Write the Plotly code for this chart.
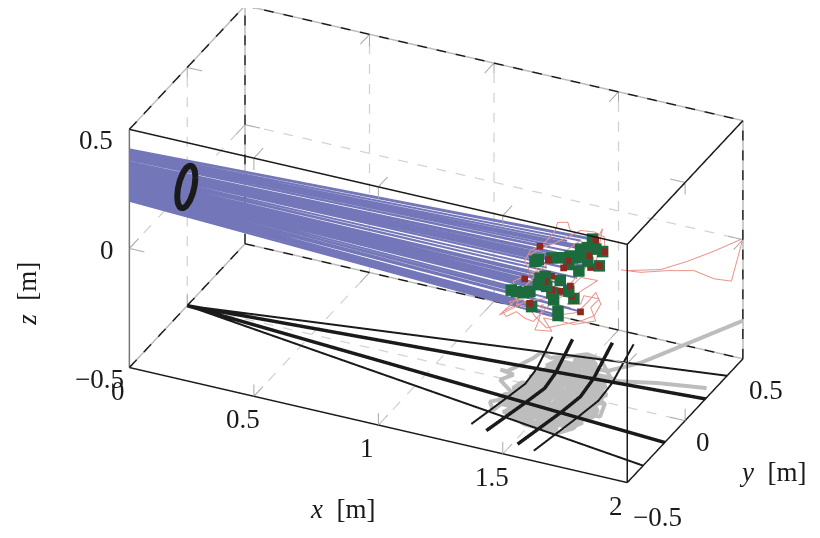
import plotly.graph_objects as go

# ticks
x_ticks = [0, 0.5, 1, 1.5, 2]
y_ticks = [-0.5, 0, 0.5]
z_ticks = [-0.5, 0, 0.5]
x_tick_text = ["0", "0.5", "1", "1.5", "2"]
y_tick_text = ["\u22120.5", "0", "0.5"]
z_tick_text = ["\u22120.5", "0", "0.5"]

# landing points
green_y = [.383, .339, .412, .281, .237, .193, .105, .032, -.085, -.114, .471, .442, .339, .266, .178, -.070,
           -.085, .105, -.158, -.216, -.275, -.319, .032, .047, .178, .222, -.143, .085, .085, -.012, .281, -.026]
green_z = [-.068, -.081, -.125, -.078, -.070, -.040, -.002, .035, .089, .097, -.166, -.211, -.137, -.141, -.068, .003,
           -.016, -.097, -.007, .018, .053, .083, -.112, -.148, -.180, -.234, -.078, -.217, -.234, -.061, -.057, -.012]
red_y = [.412, .354, .003, .170, .135, .368, -.070, .490, .442, .032, -.026, .105, .032, .193, .208, .281, -.158, -.202]
red_z = [-.090, -.123, .043, -.049, -.060, -.180, .137, -.177, -.211, -.042, -.033, -.143, -.098, -.167, -.217, -.321, -.057, .069]
landing_x = 1.45

# flight heights where each path enters the box
green_z0 = [.416, .392, .385, .372, .361, .363, .354, .349, .339, .333, .389, .352, .359, .329, .341, .293,
            .276, .297, .255, .249, .248, .250, .261, .245, .274, .258, .217, .218, .208, .276, .385, .300]
red_z0 = [.413, .372, .344, .349, .330, .343, .373, .393, .347, .303, .287, .270, .266, .287, .263, .227, .225, .284]

# flights with no marker of their own
extra_y = [-.012, -.246, .251, .281, .164, .018, -.216, -.012, .193, -.246, .076]
extra_z = [.016, .149, -.164, -.023, .037, .096, .004, -.129, -.262, -.025, -.239]
extra_z0 = [.322, .316, .310, .405, .398, .380, .240, .235, .230, .212, .200]

# hoop
hoop_x = [.2606, .2578, .2499, .2380, .224, .2100, .1981, .1902, .1874, .1902, .1981, .2100, .224, .2380, .2499, .2578, .2606]
hoop_z = [.357, .3838, .399, .4001, .387, .3617, .3282, .2914, .257, .2302, .215, .2139, .227, .2523, .2858, .3226, .357]
hoop_y = -0.49

# red tracking error trace
tangle_y = [.427, .412, .471, .427, .193, .170, .082, .061, -.012, -.158, -.202, -.158, -.099, -.304, -.231, -.421,
            -.246, -.129, -.041, -.085, -.114, .032, -.041, .105, .222, .412, .368, .442, .310, .281, .164, .266,
            .427, .281, .105, -.099, -.275, -.216, -.012, .281, .398,
            -.129, -.202, -.275, -.363, -.392, -.304, -.333, -.216, -.114, -.012, .135, .281, .398, .456, .412, .354,
            .251, .135, .061, -.158, -.041, .105, .281, .398, .485, .490, .456, .368]
tangle_z = [-.200, -.188, -.071, -.090, .065, .112, .157, .133, .129, .161, .142, .077, .047, .110, .016, .030,
            -.018, -.093, -.124, -.171, -.192, -.274, -.180, -.269, -.344, -.428, -.349, -.351, -.269, -.289, -.229, -.233,
            -.266, -.177, -.171, -.072, -.003, .037, .030, -.022, -.160,
            -.149, -.097, -.032, -.007, .029, .005, .041, -.012, -.135, -.237, -.298, -.360, -.399, -.380, -.308, -.313,
            -.309, -.256, -.184, .147, .115, .068, .020, -.047, -.113, -.150, -.155, -.081]
tail_x = [1.556, 1.636, 1.743, 1.850, 1.930, 2.0, 2.0, 1.930, 1.824, 1.716, 1.584]
tail_y = [.4, .4, .4, .4, .4, .4, .5, .4, .4, .4, .4]
tail_z = [-.182, -.173, -.140, -.114, -.129, -.122, .005, -.013, -.081, -.142, -.178]

# grey floor shadow
floor_x = [1.675, 1.590, 1.459, 1.382, 1.356, 1.342, 1.297, 1.334, 1.354, 1.380, 1.502, 1.622, 1.608, 1.445, 1.418, 1.372,
           1.448, 1.464, 1.565, 1.662, 1.615, 1.473, 1.426, 1.547, 1.583, 1.682, 1.707, 1.581, 1.524, 1.615, 1.655, 1.656,
           1.590, 1.567, 1.480, 1.379, 1.405, 1.478, 1.542, 1.415, 1.370, 1.354, 1.487, 1.617, 1.613, 1.460, 1.263, 1.292,
           1.233, 1.260, 1.307, 1.313, 1.362, 1.434, 1.472, 1.532, 1.622, 1.655, 1.793, 1.971]
floor_y = [.314, .208, .202, .138, -.011, -.127, -.175, -.227, -.094, .082, .167, .169, .081, .058, -.118, -.222,
           -.241, -.042, .088, .051, -.080, -.120, -.251, -.194, -.068, -.008, -.105, -.124, -.232, -.285, -.225, -.170,
           -.201, -.267, -.253, -.178, -.002, .101, .227, .181, .105, -.067, -.004, .003, -.163, -.181, -.014, .041,
           .054, .053, .184, .228, .210, .258, .290, .277, .169, .157, .206, .248]
core_x = [1.44, 1.52, 1.55, 1.40, 1.38, 1.60, 1.63, 1.38, 1.36, 1.64, 1.66, 1.35, 1.34, 1.67, 1.68, 1.33, 1.33, 1.66, 1.64, 1.38, 1.48, 1.61]
core_y = [.24, .24, .19, .19, .14, .14, .09, .09, .04, .04, -.01, -.01, -.06, -.06, -.11, -.11, -.16, -.16, -.21, -.21, -.26, -.26]

# black arcs and rays on the floor
arc1_x = [1.304, 1.340, 1.358, 1.349, 1.303]
arc1_y = [-.350, -.123, 0, .122, .354]
arc2_x = [1.374, 1.418, 1.436, 1.425, 1.377]
arc2_y = [-.371, -.118, 0, .117, .368]
arc3_x = [1.519, 1.565, 1.580, 1.567, 1.519]
arc3_y = [-.413, -.131, 0, .142, .407]
arc4_x = [1.593, 1.635, 1.652, 1.643, 1.594]
arc4_y = [-.432, -.139, 0, .137, .429]
ray_ends_thick = [-.176, .176]
ray_ends_thin = [-.363, .363]

BLUE = "#7376B8"
GREY = "#BDBDBD"
GRID = "#D2D2D2"
TICK = "#A8A8A8"
INK = "#1A1A1A"


# same screen position, nearer the camera, so it is painted on top
def nearer(xs, ys, zs, k):
    return ([None if v is None else v + .458 * k for v in xs],
            [None if v is None else v - k for v in ys],
            [None if v is None else v + .626 * k for v in zs])


def path(xs, ys, zs, color, width):
    fig.add_trace(go.Scatter3d(x=xs, y=ys, z=zs, mode="lines", line=dict(color=color, width=width),
                               showlegend=False, hoverinfo="skip"))


def lines(segs, color, width, lift=0):
    xs, ys, zs = [], [], []
    for a, b in segs:
        xs += [a[0], b[0], None]
        ys += [a[1], b[1], None]
        zs += [a[2], b[2], None]
    path(*nearer(xs, ys, zs, lift), color, width)


# gl dash patterns stretch with the trace length, so cut the dashes here
def dashed(segs):
    out = []
    for a, b in segs:
        n = max(round(abs(b[0] - a[0]) * 13 + abs(b[1] - a[1]) * 8 + abs(b[2] - a[2]) * 12), 1)
        for i in range(n):
            t0, t1 = i / n, (i + .5) / n
            out.append((tuple(p + (q - p) * t0 for p, q in zip(a, b)), tuple(p + (q - p) * t1 for p, q in zip(a, b))))
    return out


fig = go.Figure()

# box, front edges solid, back edges black dashes over a grey line
lines([((0, -.5, .5), (2, -.5, .5)), ((2, -.5, -.5), (2, -.5, .5)), ((0, -.5, -.5), (2, -.5, -.5)),
       ((2, -.5, -.5), (2, .5, -.5)), ((2, -.5, .5), (2, .5, .5))], INK, 3)
lines([((0, -.5, -.5), (0, -.5, .5))], "#777777", 3)
back_edges = [((0, .5, .5), (2, .5, .5)), ((2, .5, -.5), (2, .5, .5)), ((0, -.5, .5), (0, .5, .5)),
              ((0, .5, -.5), (2, .5, -.5)), ((0, .5, -.5), (0, .5, .5)), ((0, -.5, -.5), (0, .5, -.5))]
lines(back_edges, "#BBBBBB", 3)
lines(dashed(back_edges), INK, 3, lift=.006)

# dashed grid
grid = []
for t in x_ticks[1:-1]:
    grid.append(((t, -.5, -.5), (t, .5, -.5)))
    grid.append(((t, .5, -.5), (t, .5, .5)))
grid.append(((0, 0, -.5), (2, 0, -.5)))
grid.append(((0, .5, 0), (2, .5, 0)))
grid.append(((0, 0, -.5), (0, 0, .5)))
grid.append(((0, -.5, 0), (0, .5, 0)))
lines(dashed(grid), GRID, 2.5)

# short ticks on all twelve edges
ticks = []
for t in x_ticks[1:-1]:
    for yy, sy_ in ((-.5, .08), (.5, -.08)):
        for zz, sz_ in ((-.5, .05), (.5, -.05)):
            ticks += [((t, yy, zz), (t, yy + sy_, zz)), ((t, yy, zz), (t, yy, zz + sz_))]
for t in y_ticks[1:-1]:
    for xx, sx_ in ((0, .06), (2, -.06)):
        for zz, sz_ in ((-.5, .05), (.5, -.05)):
            ticks += [((xx, t, zz), (xx + sx_, t, zz)), ((xx, t, zz), (xx, t, zz + sz_))]
for t in z_ticks[1:-1]:
    for xx, sx_ in ((0, .06), (2, -.06)):
        for yy, sy_ in ((-.5, .08), (.5, -.08)):
            ticks += [((xx, yy, t), (xx + sx_, yy, t)), ((xx, yy, t), (xx, yy + sy_, t))]
lines(ticks, TICK, 2)

# flight paths
blue = []
for yy, zz, z0 in zip(green_y + red_y + extra_y, green_z + red_z + extra_z, green_z0 + red_z0 + extra_z0):
    blue.append(((0, -.5, z0), (landing_x, yy, zz)))
lines(blue, BLUE, 4)

# floor shadow
path([2.0] + floor_x, [.5] + floor_y, [-.34] + [-.499] * len(floor_x), GREY, 8)
path(core_x, core_y, [-.499] * len(core_x), GREY, 16)

# arcs and rays, lifted above the shadow
lines([((0, 0, -.5), (2, yy, -.5)) for yy in ray_ends_thick], INK, 7, lift=.03)
lines([((0, 0, -.5), (2, yy, -.5)) for yy in ray_ends_thin], INK, 4, lift=.03)
for ax, ay, width in ((arc1_x, arc1_y, 4), (arc2_x, arc2_y, 7), (arc3_x, arc3_y, 7), (arc4_x, arc4_y, 4)):
    path(*nearer(ax, ay, [-.5] * len(ax), .03), INK, width)

# red trace
path(*nearer([landing_x] * len(tangle_y), tangle_y, tangle_z, .05), "#E9938A", 2)
path(tail_x, tail_y, tail_z, "#E9938A", 2)

# markers
sx, sy, sz = nearer([landing_x] * len(green_y), green_y, green_z, .1)
fig.add_trace(go.Scatter3d(x=sx, y=sy, z=sz, mode="markers", showlegend=False, hoverinfo="skip",
                           marker=dict(color="#1C6B3C", size=6, symbol="square", line=dict(width=0))))
sx, sy, sz = nearer([landing_x] * len(red_y), red_y, red_z, .13)
fig.add_trace(go.Scatter3d(x=sx, y=sy, z=sz, mode="markers", showlegend=False, hoverinfo="skip",
                           marker=dict(color="#8C2A22", size=3.5, symbol="square", line=dict(width=0))))

# hoop
path(hoop_x, [hoop_y] * len(hoop_x), hoop_z, INK, 12)

# labels as scene annotations
font = dict(family="Liberation Serif", size=27, color="#1a1a1a")
notes = []
for t, s in zip(x_ticks, x_tick_text):
    notes.append(dict(x=t, y=-.5, z=-.5, text=s, showarrow=False, font=font, xshift=-11, yshift=-23))
for t, s, dx, dy in zip(y_ticks, y_tick_text, (30, 18, 23), (-34, -21, -31)):
    notes.append(dict(x=2, y=t, z=-.5, text=s, showarrow=False, font=font, xshift=dx, yshift=dy))
for t, s, dx, dy in zip(z_ticks, z_tick_text, (-30, -22, -33), (-11, -2, -11)):
    notes.append(dict(x=0, y=-.5, z=t, text=s, showarrow=False, font=font, xshift=dx, yshift=dy))
notes.append(dict(x=1, y=-.5, z=-.5, text="<i>x</i>  [m]", showarrow=False, font=font, xshift=-36, yshift=-84))
notes.append(dict(x=2, y=0, z=-.5, text="<i>y</i>  [m]", showarrow=False, font=font, xshift=87, yshift=-51))
notes.append(dict(x=0, y=-.5, z=0, text="<i>z</i>  [m]", showarrow=False, font=font, textangle=-90, xshift=-102, yshift=-45))

# ranges run 2 cm past the box so the lifted lines are not clipped
hidden = dict(visible=False, showgrid=False, zeroline=False, showbackground=False, autorange=False)
fig.update_layout(
    width=820, height=538, margin=dict(l=0, r=0, t=0, b=0), paper_bgcolor="white",
    scene=dict(
        xaxis=dict(range=[-.02, 2.02], **hidden),
        yaxis=dict(range=[-.52, .52], **hidden),
        zaxis=dict(range=[-.52, .52], **hidden),
        aspectmode="manual", aspectratio=dict(x=2.0818, y=1.0613, z=1.0613),
        domain=dict(x=[0, 1], y=[0, 1]),
        camera=dict(projection=dict(type="orthographic"), up=dict(x=0, y=0, z=1),
                    center=dict(x=-.0612, y=-.0286, z=-.141), eye=dict(x=.655, y=-1.570, z=.833)),
        annotations=notes,
    ),
)

fig.write_html("out.html")
